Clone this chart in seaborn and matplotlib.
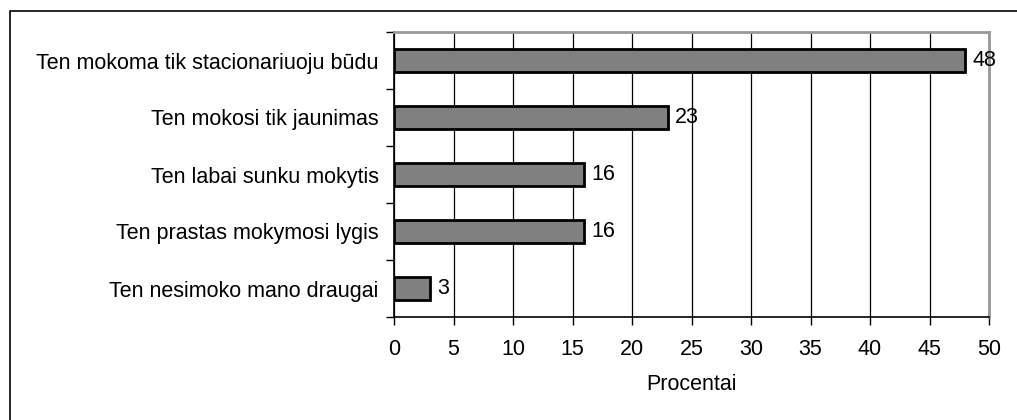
import matplotlib
matplotlib.use("Agg")
import matplotlib.pyplot as plt
import seaborn as sns
import pandas as pd
from matplotlib.patches import Rectangle

categories = [
    "Ten mokoma tik stacionariuoju būdu",
    "Ten mokosi tik jaunimas",
    "Ten labai sunku mokytis",
    "Ten prastas mokymosi lygis",
    "Ten nesimoko mano draugai",
]
values = [48, 23, 16, 16, 3]
xticks = [0, 5, 10, 15, 20, 25, 30, 35, 40, 45, 50]
xlabel = "Procentai"

sns.set_style("white")
plt.rcParams['font.family'] = ['Liberation Sans', 'DejaVu Sans']
plt.rcParams['text.color'] = 'black'
plt.rcParams['xtick.color'] = 'black'
plt.rcParams['ytick.color'] = 'black'
plt.rcParams['axes.labelcolor'] = 'black'

FS = 15.5

df = pd.DataFrame({"cat": categories, "val": values})

fig = plt.figure(figsize=(10.17, 4.2), dpi=100)
W, H = 1017, 420
ax = fig.add_axes([394 / W, 1 - 317 / H, (989 - 394) / W, (317 - 32) / H])

sns.barplot(data=df, y="cat", x="val", orient="h", color="#808080",
            edgecolor="black", linewidth=2, width=0.42, saturation=1, ax=ax, zorder=3)

ax.set_xlim(0, 50)
ax.set_ylim(len(categories) - 0.5, -0.5)
ax.set_xticks(xticks)
ax.set_xticklabels([str(t) for t in xticks], fontsize=FS)
ax.set_yticks(range(len(categories)))
ax.set_yticklabels(categories, fontsize=FS)
ax.set_yticks([i - 0.5 for i in range(len(categories) + 1)], minor=True)
ax.tick_params(axis="y", which="major", length=0, pad=11)
ax.tick_params(axis="y", which="minor", length=6, width=1, color="black", direction="out", left=True)
ax.tick_params(axis="x", which="major", length=6, width=1, color="black", direction="out", bottom=True, pad=10)
ax.set_xlabel(xlabel, fontsize=FS, labelpad=10)
ax.set_ylabel("")

ax.grid(axis="x", color="black", linewidth=0.9, zorder=0)
ax.set_axisbelow(True)

for s in ["top", "right"]:
    ax.spines[s].set_color("#999999")
    ax.spines[s].set_linewidth(2)
for s in ["left", "bottom"]:
    ax.spines[s].set_color("black")
    ax.spines[s].set_linewidth(1.2)

for i, v in enumerate(values):
    ax.text(v + 0.6, i, str(v), va="center", ha="left", fontsize=FS, color="black", zorder=5)

fig.patches.append(Rectangle((10 / W, -0.1), 1.2, 1 - 11 / H + 0.1, transform=fig.transFigure,
                             fill=False, edgecolor="black", linewidth=1.2))

fig.savefig("out.png", dpi=100)
